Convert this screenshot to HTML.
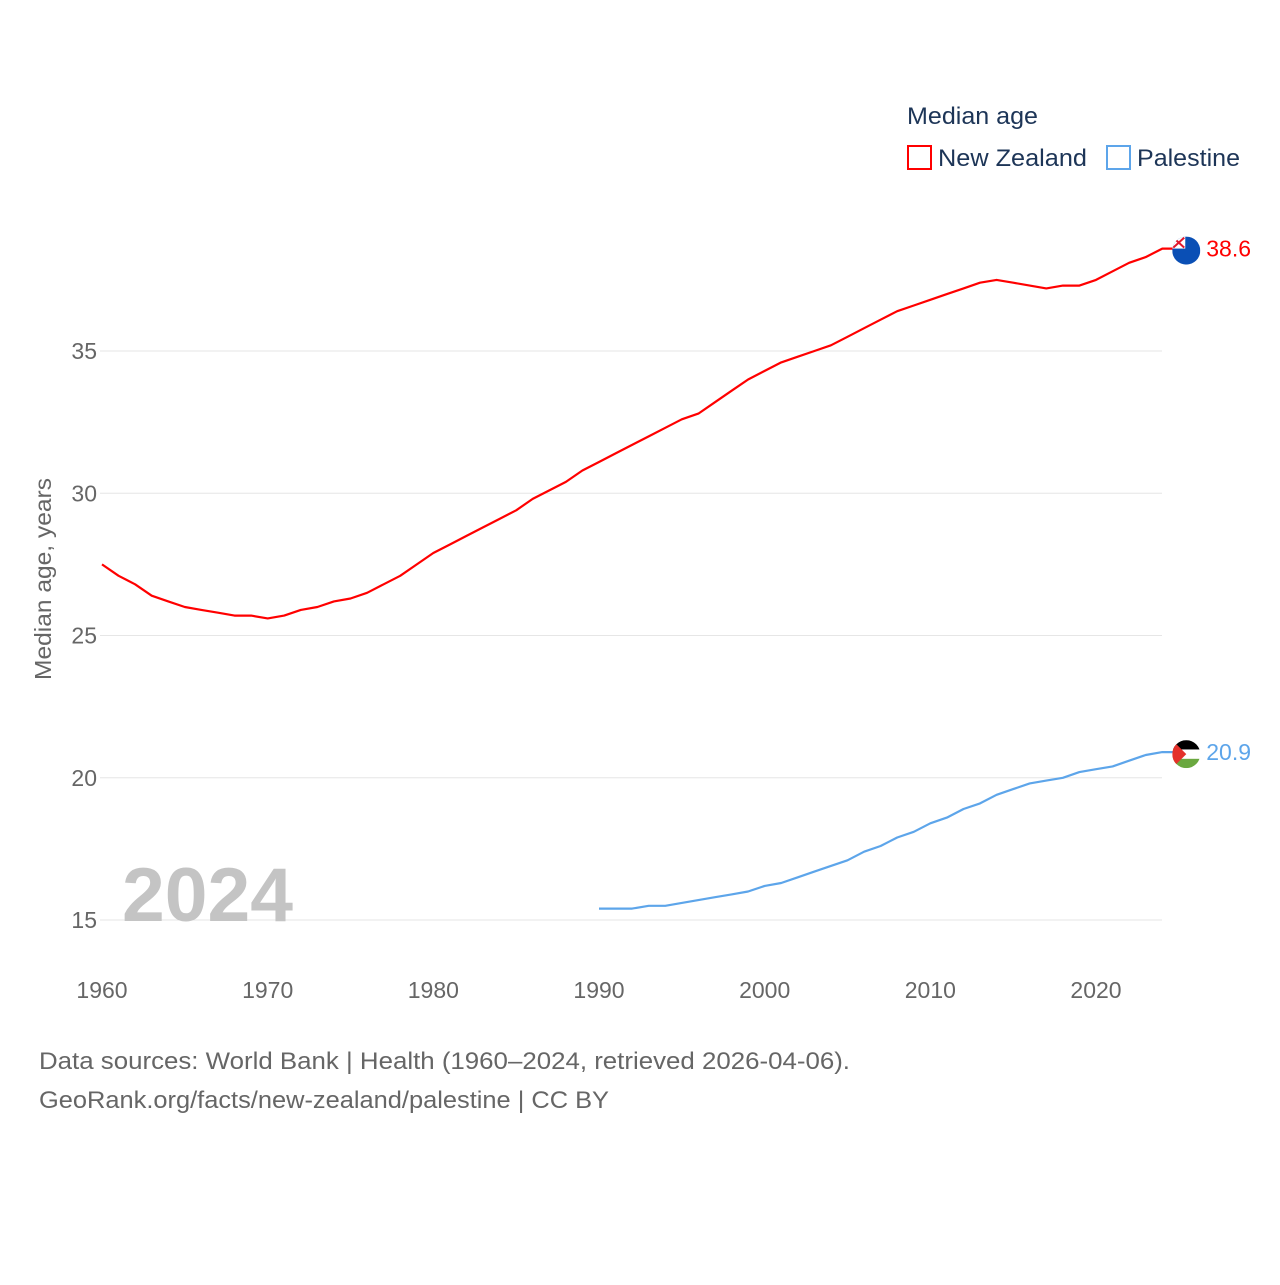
<!DOCTYPE html>
<html><head><meta charset="utf-8">
<style>
html,body{margin:0;padding:0;background:#fff;}
body{width:1280px;height:1280px;overflow:hidden;font-family:"Liberation Sans",sans-serif;}
svg text{font-family:"Liberation Sans",sans-serif;}
</style></head>
<body>
<svg id="chart" width="1280" height="1280" xmlns="http://www.w3.org/2000/svg">
  <defs>
    <clipPath id="nzc"><circle id="nzcc" cx="0" cy="0" r="14"/></clipPath>
    <clipPath id="pc"><circle id="pcc" cx="0" cy="0" r="14"/></clipPath>
  </defs>
  <g id="grid"></g>
  <g id="yticks"></g>
  <g id="xticks"></g>
  <text x="0" y="0" transform="translate(51,579) rotate(-90)" text-anchor="middle" font-size="23" fill="#666" textLength="202" lengthAdjust="spacingAndGlyphs">Median age, years</text>
  <text x="122" y="921" font-size="76" font-weight="bold" fill="#c4c4c4" textLength="171" lengthAdjust="spacingAndGlyphs">2024</text>
  <g id="series"></g>
  <g>
    <text x="907" y="124" font-size="24" fill="#1d3557" textLength="131" lengthAdjust="spacingAndGlyphs">Median age</text>
    <g>
      <rect x="908" y="146" width="23" height="23" fill="none" stroke="#ff0000" stroke-width="2"/>
      <text x="938" y="166" font-size="24" fill="#1d3557" textLength="149" lengthAdjust="spacingAndGlyphs">New Zealand</text>
    </g>
    <g>
      <rect x="1107" y="146" width="23" height="23" fill="none" stroke="#5da5ea" stroke-width="2"/>
      <text x="1137" y="166" font-size="24" fill="#1d3557" textLength="103" lengthAdjust="spacingAndGlyphs">Palestine</text>
    </g>
  </g>
  <text x="39" y="1069" font-size="24" fill="#666" textLength="811" lengthAdjust="spacingAndGlyphs">Data sources: World Bank | Health (1960–2024, retrieved 2026-04-06).</text>
  <text x="39" y="1108" font-size="24" fill="#666" textLength="570" lengthAdjust="spacingAndGlyphs">GeoRank.org/facts/new-zealand/palestine | CC BY</text>
</svg>
<script>
const years = [];
for (let y = 1960; y <= 2024; y++) years.push(y);
const nzValues = [27.5,27.1,26.8,26.4,26.2,26.0,25.9,25.8,25.7,25.7,25.6,25.7,25.9,26.0,26.2,26.3,26.5,26.8,27.1,27.5,27.9,28.2,28.5,28.8,29.1,29.4,29.8,30.1,30.4,30.8,31.1,31.4,31.7,32.0,32.3,32.6,32.8,33.2,33.6,34.0,34.3,34.6,34.8,35.0,35.2,35.5,35.8,36.1,36.4,36.6,36.8,37.0,37.2,37.4,37.5,37.4,37.3,37.2,37.3,37.3,37.5,37.8,38.1,38.3,38.6];
const psYears = [];
for (let y = 1990; y <= 2024; y++) psYears.push(y);
const psValues = [15.4,15.4,15.4,15.5,15.5,15.6,15.7,15.8,15.9,16.0,16.2,16.3,16.5,16.7,16.9,17.1,17.4,17.6,17.9,18.1,18.4,18.6,18.9,19.1,19.4,19.6,19.8,19.9,20.0,20.2,20.3,20.4,20.6,20.8,20.9];
const yTickValues = [15,20,25,30,35];
const xTickValues = [1960,1970,1980,1990,2000,2010,2020];

const NS = "http://www.w3.org/2000/svg";
function xScale(yr){ return 102 + (yr - 1960) * (1096 - 102) / 60; }
function yScale(v){ return 920 - (v - 15) * (920 - 351) / 20; }
function mk(tag, attrs, parent){ const e = document.createElementNS(NS, tag); for (const k in attrs) e.setAttribute(k, attrs[k]); parent.appendChild(e); return e; }

const grid = document.getElementById('grid'), yt = document.getElementById('yticks'), xt = document.getElementById('xticks'), series = document.getElementById('series');
yTickValues.forEach(v => {
  const l = mk('line', {x1:100, x2:1162, y1:yScale(v), y2:yScale(v), stroke:'#e6e6e6', 'stroke-width':1}, grid);
  
  
  const t = mk('text', {x:97, y:yScale(v)+8, 'text-anchor':'end', 'font-size':23, fill:'#666'}, yt);
  t.textContent = v;
  
  
});
xTickValues.forEach(v => {
  const t = mk('text', {x:xScale(v), y:998, 'text-anchor':'middle', 'font-size':23, fill:'#666'}, xt);
  t.textContent = v;
  
  
});
function drawLine(xs, vs, color, name){
  let d = xs.map((yr,i) => (i? 'L':'M') + xScale(yr).toFixed(1) + ',' + yScale(vs[i]).toFixed(1)).join(' ');
  const last = vs[vs.length-1];
  d += ' L' + (xScale(xs[xs.length-1]) + 14).toFixed(1) + ',' + yScale(last).toFixed(1);
  const p = mk('path', {d:d, fill:'none', stroke:color, 'stroke-width':2.2, 'stroke-linejoin':'round'}, series);
  
  
  const lx = xScale(xs[xs.length-1]) + 24, ly = yScale(last);
  const t = mk('text', {x:lx+20, y:ly+8, 'font-size':23, fill:color}, series);
  t.textContent = last.toFixed(1);
  
  
  return [lx, ly];
}
const [nx, ny] = drawLine(years, nzValues, '#ff0000', 'new-zealand');
const [px, py] = drawLine(psYears, psValues, '#5da5ea', 'palestine');
// NZ flag
const nzc = document.getElementById('nzcc'); nzc.setAttribute('cx', nx); nzc.setAttribute('cy', ny+2);
const nzf = mk('g', {'clip-path':'url(#nzc)'}, series);


mk('rect', {x:nx-14, y:ny-12, width:28, height:28, fill:'#0a4fb5'}, nzf);
mk('rect', {x:nx-14, y:ny-12, width:13, height:12, fill:'#fff'}, nzf);
mk('path', {d:`M${nx-13},${ny-11} L${nx-2},${ny-1} M${nx-2},${ny-11} L${nx-13},${ny-1}`, stroke:'#e0182d', 'stroke-width':2}, nzf);
// Palestine flag
const r = 14;
const pcc = document.getElementById('pcc'); pcc.setAttribute('cx', px); pcc.setAttribute('cy', py+2);
const psf = mk('g', {'clip-path':'url(#pc)'}, series);


mk('rect', {x:px-r, y:py+2-r, width:2*r, height:r*2/3, fill:'#000'}, psf);
mk('rect', {x:px-r, y:py+2-r/3, width:2*r, height:r*2/3, fill:'#fff'}, psf);
mk('rect', {x:px-r, y:py+2+r/3, width:2*r, height:r*2/3, fill:'#6aa83f'}, psf);
mk('path', {d:`M${px-r},${py+2-r} L${px},${py+2} L${px-r},${py+2+r} Z`, fill:'#e4312b'}, psf);
</script>
</body></html>
